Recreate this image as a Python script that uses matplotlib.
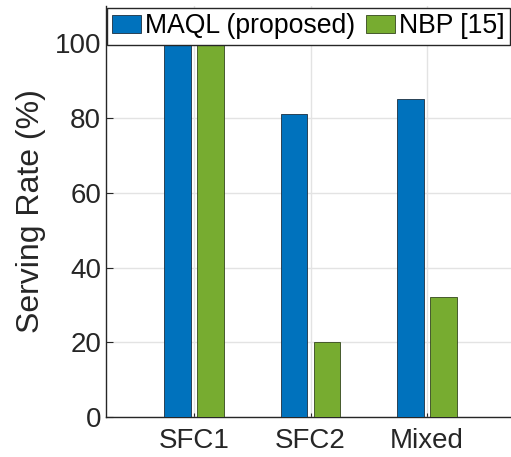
import numpy as np
import matplotlib
matplotlib.use("Agg")
import matplotlib.pyplot as plt

categories = ["SFC1", "SFC2", "Mixed"]
maql = [100, 81, 85]
nbp = [100, 20, 32]
series_names = ["MAQL (proposed)", "NBP [15]"]

plt.rcParams["font.family"] = ["Liberation Sans", "DejaVu Sans"]

fig = plt.figure(figsize=(5.11, 4.57), dpi=100)
ax = fig.add_axes([0.2074, 0.0875, 0.7926, 0.8995])

x = np.arange(1, len(categories) + 1)
w = 0.23
off = 0.142
ax.bar(x - off, maql, width=w, color="#0072BD", edgecolor="#1c2f40",
       linewidth=0.6, label=series_names[0], zorder=3)
ax.bar(x + off, nbp, width=w, color="#77AC30", edgecolor="#34461c",
       linewidth=0.6, label=series_names[1], zorder=3)

ax.set_xlim(0.245, 3.72)
ax.set_ylim(0, 110)
ax.set_yticks([0, 20, 40, 60, 80, 100])
ax.set_xticks(x)
ax.set_xticklabels(categories)

for s in ["top", "right"]:
    ax.spines[s].set_visible(False)
for s in ["left", "bottom"]:
    ax.spines[s].set_color("#262626")
    ax.spines[s].set_linewidth(1.0)

ax.tick_params(axis="both", direction="in", labelsize=20, colors="#262626",
               length=5, width=0.8)
ax.tick_params(axis="x", length=3, pad=8)
ax.grid(True, color="#e3e3e3", linewidth=1.0, zorder=0)
ax.set_axisbelow(True)

ax.set_ylabel("Serving Rate (%)", fontsize=23, color="#262626", labelpad=6)

leg = ax.legend(loc="upper center", bbox_to_anchor=(0.5, 0.995), ncol=2,
                fontsize=19.2, frameon=True, fancybox=False, framealpha=1,
                edgecolor="#262626", handlelength=1.1, handleheight=0.64,
                handletextpad=0.15, columnspacing=0.4, borderpad=0.2,
                borderaxespad=0.0)
leg.get_frame().set_linewidth(1.0)

fig.savefig("out.png", dpi=100)
